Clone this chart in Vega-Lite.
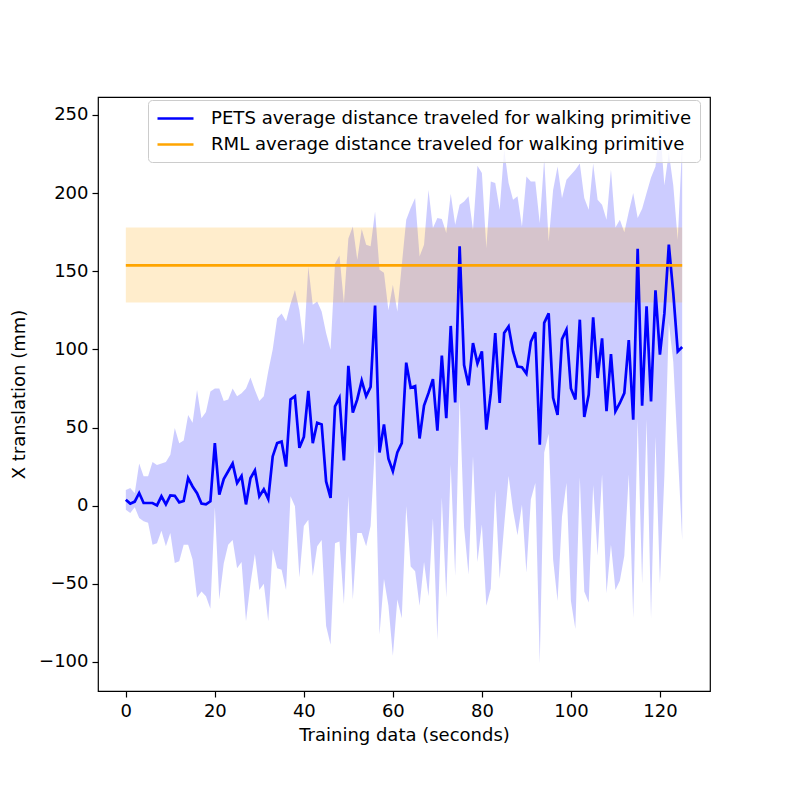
{
  "$schema": "https://vega.github.io/schema/vega-lite/v6.json",
  "description": "PETS vs RML average distance traveled for walking primitive",
  "width": 612,
  "height": 594,
  "autosize": {"type": "none"},
  "padding": {"left": 98, "top": 97, "right": 79, "bottom": 98},
  "background": "white",
  "config": {
    "font": "DejaVu Sans",
    "view": {"stroke": "black", "strokeWidth": 1.2},
    "axis": {
      "grid": false,
      "domain": false,
      "ticks": true,
      "tickSize": 6,
      "tickWidth": 1.2,
      "tickColor": "black",
      "labelFont": "DejaVu Sans",
      "labelFontSize": 18,
      "labelColor": "black",
      "titleFont": "DejaVu Sans",
      "titleFontSize": 18,
      "titleFontWeight": "normal",
      "titleColor": "black"
    }
  },
  "datasets": {
    "pets": [
      {"t": 0, "m": 3.8, "lo": -2.6, "hi": 10},
      {"t": 1, "m": 1.3, "lo": -4.7, "hi": 11.3},
      {"t": 2, "m": 2.6, "lo": -1, "hi": 8},
      {"t": 3, "m": 8.1, "lo": -7.9, "hi": 27},
      {"t": 4, "m": 1.7, "lo": -10, "hi": 18.8},
      {"t": 5, "m": 1.7, "lo": -11, "hi": 18.8},
      {"t": 6, "m": 1.7, "lo": -25, "hi": 28},
      {"t": 7, "m": 0.2, "lo": -24, "hi": 26},
      {"t": 8, "m": 6, "lo": -16, "hi": 27},
      {"t": 9, "m": 0.8, "lo": -26, "hi": 28},
      {"t": 10, "m": 6.6, "lo": -17.5, "hi": 32.6},
      {"t": 11, "m": 6.3, "lo": -36.7, "hi": 49.7},
      {"t": 12, "m": 2.1, "lo": -35.6, "hi": 40},
      {"t": 13, "m": 3, "lo": -25, "hi": 41.7},
      {"t": 14, "m": 17.7, "lo": -25, "hi": 58},
      {"t": 15, "m": 12.3, "lo": -34.5, "hi": 53},
      {"t": 16, "m": 8, "lo": -59, "hi": 74},
      {"t": 17, "m": 1.3, "lo": -55, "hi": 56},
      {"t": 18, "m": 0.8, "lo": -58, "hi": 60},
      {"t": 19, "m": 2.8, "lo": -66, "hi": 73},
      {"t": 20, "m": 40, "lo": -1, "hi": 75},
      {"t": 21, "m": 7, "lo": -60, "hi": 75},
      {"t": 22, "m": 17, "lo": -37, "hi": 67},
      {"t": 23, "m": 22, "lo": -25, "hi": 68},
      {"t": 24, "m": 27, "lo": -22, "hi": 75},
      {"t": 25, "m": 14.5, "lo": -40, "hi": 70},
      {"t": 26, "m": 19, "lo": -36, "hi": 72},
      {"t": 27, "m": 0.8, "lo": -74, "hi": 75},
      {"t": 28, "m": 17.5, "lo": -50, "hi": 82},
      {"t": 29, "m": 22.5, "lo": -31, "hi": 74},
      {"t": 30, "m": 6, "lo": -54, "hi": 67},
      {"t": 31, "m": 10.5, "lo": -50, "hi": 70},
      {"t": 32, "m": 4.3, "lo": -74, "hi": 86},
      {"t": 33, "m": 31.5, "lo": -28, "hi": 100},
      {"t": 34, "m": 40, "lo": -40, "hi": 120},
      {"t": 35, "m": 41, "lo": -41, "hi": 123},
      {"t": 36, "m": 25, "lo": -54, "hi": 118},
      {"t": 37, "m": 68, "lo": 6, "hi": 129},
      {"t": 38, "m": 70, "lo": -0.4, "hi": 138},
      {"t": 39, "m": 37, "lo": -46, "hi": 125},
      {"t": 40, "m": 44, "lo": -13, "hi": 103},
      {"t": 41, "m": 73.5, "lo": -9, "hi": 153},
      {"t": 42, "m": 40, "lo": -45, "hi": 128.6},
      {"t": 43, "m": 53, "lo": -26, "hi": 130.7},
      {"t": 44, "m": 52, "lo": -22, "hi": 124.3},
      {"t": 45, "m": 15.5, "lo": -77, "hi": 110.5},
      {"t": 46, "m": 5, "lo": -89, "hi": 99.8},
      {"t": 47, "m": 63.5, "lo": -24, "hi": 155},
      {"t": 48, "m": 69, "lo": -23, "hi": 160},
      {"t": 49, "m": 29, "lo": -63, "hi": 129.7},
      {"t": 50, "m": 89.5, "lo": 6, "hi": 171},
      {"t": 51, "m": 59.5, "lo": -60, "hi": 178.7},
      {"t": 52, "m": 68, "lo": -17.5, "hi": 157.4},
      {"t": 53, "m": 80, "lo": -17.5, "hi": 177},
      {"t": 54, "m": 70, "lo": -26, "hi": 167},
      {"t": 55, "m": 76, "lo": -13, "hi": 166},
      {"t": 56, "m": 128, "lo": 40, "hi": 188.3},
      {"t": 57, "m": 34, "lo": -82.5, "hi": 151},
      {"t": 58, "m": 52, "lo": -47, "hi": 149},
      {"t": 59, "m": 30, "lo": -64, "hi": 125},
      {"t": 60, "m": 22, "lo": -96, "hi": 141.4},
      {"t": 61, "m": 34, "lo": -60, "hi": 124.3},
      {"t": 62, "m": 40, "lo": -72, "hi": 154},
      {"t": 63, "m": 91.5, "lo": -0.4, "hi": 183},
      {"t": 64, "m": 75.5, "lo": -39, "hi": 190.4},
      {"t": 65, "m": 76.5, "lo": -42, "hi": 196.8},
      {"t": 66, "m": 43, "lo": -64, "hi": 159.5},
      {"t": 67, "m": 64, "lo": -36, "hi": 167},
      {"t": 68, "m": 72, "lo": -58, "hi": 202},
      {"t": 69, "m": 81, "lo": -8, "hi": 177.6},
      {"t": 70, "m": 48, "lo": -86, "hi": 184},
      {"t": 71, "m": 96, "lo": 5, "hi": 183.4},
      {"t": 72, "m": 56, "lo": -59, "hi": 174.5},
      {"t": 73, "m": 115, "lo": 26, "hi": 199.6},
      {"t": 74, "m": 66, "lo": -45, "hi": 179.8},
      {"t": 75, "m": 166, "lo": 70, "hi": 192.6},
      {"t": 76, "m": 90, "lo": -14, "hi": 194.7},
      {"t": 77, "m": 77, "lo": -44, "hi": 198},
      {"t": 78, "m": 104, "lo": 31.5, "hi": 176.6},
      {"t": 79, "m": 91, "lo": -36, "hi": 217.5},
      {"t": 80, "m": 98.7, "lo": -12, "hi": 212.8},
      {"t": 81, "m": 48.6, "lo": -64, "hi": 164.9},
      {"t": 82, "m": 72, "lo": -53, "hi": 207.5},
      {"t": 83, "m": 110.5, "lo": 10, "hi": 206.5},
      {"t": 84, "m": 65.7, "lo": -47, "hi": 189.4},
      {"t": 85, "m": 110.5, "lo": -13, "hi": 228},
      {"t": 86, "m": 114.7, "lo": 19, "hi": 206.4},
      {"t": 87, "m": 98.7, "lo": -3, "hi": 195.8},
      {"t": 88, "m": 89, "lo": -19, "hi": 198},
      {"t": 89, "m": 88.6, "lo": 0.6, "hi": 178.7},
      {"t": 90, "m": 84.5, "lo": -43, "hi": 210.7},
      {"t": 91, "m": 105, "lo": 4, "hi": 207.5},
      {"t": 92, "m": 111, "lo": 14.5, "hi": 207.5},
      {"t": 93, "m": 39, "lo": -101, "hi": 180.8},
      {"t": 94, "m": 117, "lo": 34, "hi": 222},
      {"t": 95, "m": 123, "lo": 46, "hi": 169},
      {"t": 96, "m": 69, "lo": -34.5, "hi": 202},
      {"t": 97, "m": 58, "lo": -61, "hi": 217},
      {"t": 98, "m": 106.6, "lo": -7, "hi": 196.8},
      {"t": 99, "m": 112.6, "lo": 14.5, "hi": 208.6},
      {"t": 100, "m": 75, "lo": -61, "hi": 211.8},
      {"t": 101, "m": 68, "lo": -79, "hi": 215},
      {"t": 102, "m": 119, "lo": 18, "hi": 219},
      {"t": 103, "m": 56.7, "lo": -55, "hi": 196.8},
      {"t": 104, "m": 71, "lo": -62, "hi": 189.4},
      {"t": 105, "m": 120.5, "lo": 13, "hi": 219},
      {"t": 106, "m": 81.7, "lo": -32, "hi": 195.8},
      {"t": 107, "m": 107, "lo": 20, "hi": 192.6},
      {"t": 108, "m": 60.4, "lo": -56, "hi": 183},
      {"t": 109, "m": 97, "lo": -25, "hi": 215},
      {"t": 110, "m": 60.4, "lo": -54, "hi": 178},
      {"t": 111, "m": 65.7, "lo": -48, "hi": 183},
      {"t": 112, "m": 72, "lo": -32, "hi": 175},
      {"t": 113, "m": 106, "lo": 20, "hi": 188},
      {"t": 114, "m": 55, "lo": -72, "hi": 200},
      {"t": 115, "m": 164.4, "lo": 55, "hi": 184},
      {"t": 116, "m": 64, "lo": -50, "hi": 190},
      {"t": 117, "m": 127.5, "lo": 55, "hi": 200},
      {"t": 118, "m": 66.7, "lo": -72, "hi": 210},
      {"t": 119, "m": 137.8, "lo": 44, "hi": 217},
      {"t": 120, "m": 96.6, "lo": -50, "hi": 244},
      {"t": 121, "m": 123, "lo": 19, "hi": 205},
      {"t": 122, "m": 167, "lo": 117, "hi": 226},
      {"t": 123, "m": 136, "lo": 92, "hi": 205},
      {"t": 124, "m": 98.7, "lo": 35, "hi": 170},
      {"t": 125, "m": 101.5, "lo": -22, "hi": 232}
    ],
    "rml": [
      {"t": 0, "m": 153.8, "lo": 130, "hi": 178},
      {"t": 125, "m": 153.8, "lo": 130, "hi": 178}
    ]
  },
  "encoding": {
    "x": {
      "field": "t",
      "type": "quantitative",
      "title": "Training data (seconds)",
      "scale": {"domain": [-6.25, 131.25], "nice": false, "zero": false},
      "axis": {"values": [0, 20, 40, 60, 80, 100, 120], "labelPadding": 5, "titlePadding": 6}
    }
  },
  "layer": [
    {
      "data": {"name": "pets"},
      "mark": {"type": "area", "color": "#0000ff", "opacity": 0.2},
      "encoding": {
        "y": {
          "field": "lo",
          "type": "quantitative",
          "title": "X translation (mm)",
          "scale": {"domain": [-118.6, 261.5], "nice": false, "zero": false},
          "axis": {"values": [-100, -50, 0, 50, 100, 150, 200, 250], "labelPadding": 4, "titlePadding": 10}
        },
        "y2": {"field": "hi"}
      }
    },
    {
      "data": {"name": "rml"},
      "mark": {"type": "area", "color": "#ffa500", "opacity": 0.2},
      "encoding": {
        "y": {"field": "lo", "type": "quantitative"},
        "y2": {"field": "hi"}
      }
    },
    {
      "data": {"name": "pets"},
      "mark": {"type": "line", "strokeWidth": 2.7},
      "encoding": {
        "y": {"field": "m", "type": "quantitative"},
        "color": {
          "datum": "PETS average distance traveled for walking primitive",
          "type": "nominal",
          "scale": {
            "domain": [
              "PETS average distance traveled for walking primitive",
              "RML average distance traveled for walking primitive"
            ],
            "range": ["#0000ff", "#ffa500"]
          },
          "legend": {
            "title": null,
            "orient": "none",
            "legendX": 50,
            "legendY": 3,
            "symbolType": "M-1,0H3",
            "symbolSize": 324,
            "symbolStrokeWidth": 2.7,
            "labelFont": "DejaVu Sans",
            "labelFontSize": 18.1,
            "labelColor": "black",
            "labelOffset": 34,
            "labelLimit": 0,
            "rowPadding": 6,
            "padding": 8,
            "fillColor": "rgba(255,255,255,0.8)",
            "strokeColor": "#cccccc",
            "cornerRadius": 4
          }
        }
      }
    },
    {
      "data": {"name": "rml"},
      "mark": {"type": "line", "strokeWidth": 2.7},
      "encoding": {
        "y": {"field": "m", "type": "quantitative"},
        "color": {"datum": "RML average distance traveled for walking primitive", "type": "nominal"}
      }
    }
  ]
}
